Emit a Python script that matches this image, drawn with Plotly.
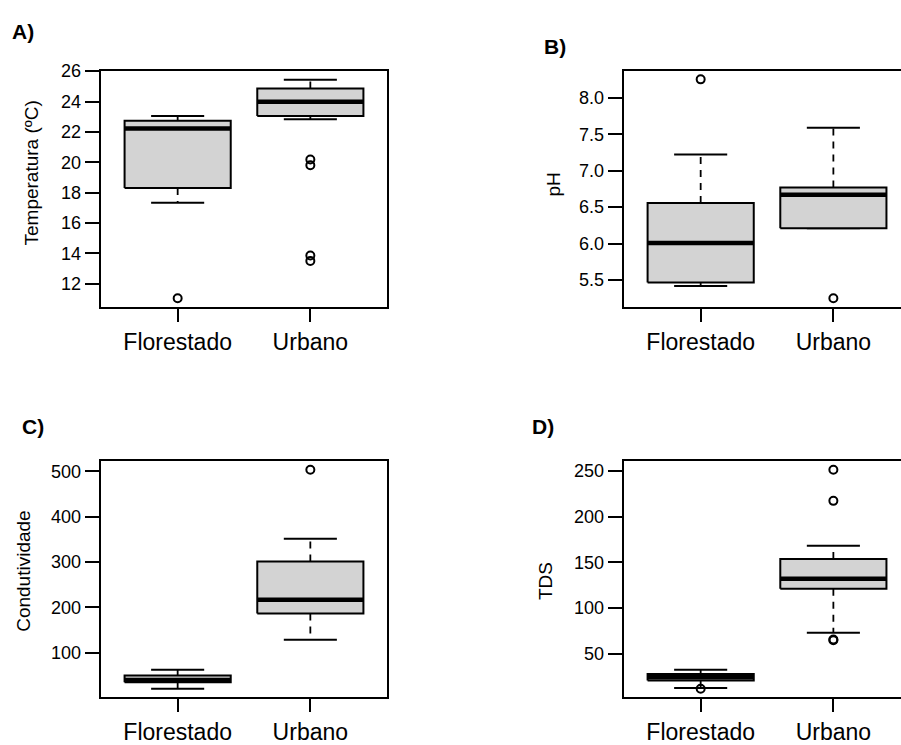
import plotly.graph_objects as go

W, H = 901, 745

categories = ["Florestado", "Urbano"]
cat_pos = [1, 2]

# Panel A - Temperatura
temp_lower = [17.34, 22.83]
temp_q1 = [18.31, 23.05]
temp_median = [22.23, 23.98]
temp_q3 = [22.73, 24.86]
temp_upper = [23.05, 25.44]
temp_outliers = [[11.05], [20.18, 19.80, 13.87, 13.51]]
temp_ticks = [12, 14, 16, 18, 20, 22, 24, 26]

# Panel B - pH
ph_lower = [5.415, 6.21]
ph_q1 = [5.464, 6.21]
ph_median = [6.008, 6.67]
ph_q3 = [6.557, 6.77]
ph_upper = [7.222, 7.59]
ph_outliers = [[8.256], [5.248]]
ph_ticks = [5.5, 6.0, 6.5, 7.0, 7.5, 8.0]

# Panel C - Condutividade
cond_lower = [21, 129]
cond_q1 = [35, 186.8]
cond_median = [40, 217.2]
cond_q3 = [50, 301.1]
cond_upper = [63, 351.7]
cond_outliers = [[], [503.6]]
cond_ticks = [100, 200, 300, 400, 500]

# Panel D - TDS
tds_lower = [12.2, 72.7]
tds_q1 = [20.5, 120.9]
tds_median = [24.1, 132]
tds_q3 = [27.7, 153.6]
tds_upper = [32.4, 168]
tds_outliers = [[11.5], [251.4, 217.3, 64.7, 65.5]]
tds_ticks = [50, 100, 150, 200, 250]

FONT = "Liberation Sans, Arial, sans-serif"
BOXW = 0.8
CAPW = 0.4

fig = go.Figure()


def add_panel(ax, lower, q1, med, q3, upper, outliers):
    xa = "x" if ax == 1 else f"x{ax}"
    ya = "y" if ax == 1 else f"y{ax}"
    for i, x in enumerate(cat_pos):
        # whiskers (dashed)
        for a, b in ((q3[i], upper[i]), (q1[i], lower[i])):
            if a != b:
                fig.add_trace(go.Scatter(x=[x, x], y=[a, b], mode="lines",
                                         line=dict(color="black", width=1.8, dash="7px,6px"),
                                         xaxis=xa, yaxis=ya, hoverinfo="skip", showlegend=False))
        # caps
        for v in (upper[i], lower[i]):
            fig.add_trace(go.Scatter(x=[x - CAPW / 2, x + CAPW / 2], y=[v, v], mode="lines",
                                     line=dict(color="black", width=2),
                                     xaxis=xa, yaxis=ya, hoverinfo="skip", showlegend=False))
        # box
        x0, x1 = x - BOXW / 2, x + BOXW / 2
        fig.add_trace(go.Scatter(x=[x0, x1, x1, x0, x0], y=[q1[i], q1[i], q3[i], q3[i], q1[i]],
                                 mode="lines", fill="toself", fillcolor="#d3d3d3",
                                 line=dict(color="black", width=2),
                                 xaxis=xa, yaxis=ya, hoverinfo="skip", showlegend=False))
        # median
        fig.add_trace(go.Scatter(x=[x0, x1], y=[med[i], med[i]], mode="lines",
                                 line=dict(color="black", width=4.5),
                                 xaxis=xa, yaxis=ya, hoverinfo="skip", showlegend=False))
        # outliers
        if outliers[i]:
            fig.add_trace(go.Scatter(x=[x] * len(outliers[i]), y=outliers[i], mode="markers",
                                     marker=dict(symbol="circle-open", size=8,
                                                 color="black", line=dict(width=2, color="black")),
                                     xaxis=xa, yaxis=ya, hoverinfo="skip", showlegend=False))


add_panel(1, temp_lower, temp_q1, temp_median, temp_q3, temp_upper, temp_outliers)
add_panel(2, ph_lower, ph_q1, ph_median, ph_q3, ph_upper, ph_outliers)
add_panel(3, cond_lower, cond_q1, cond_median, cond_q3, cond_upper, cond_outliers)
add_panel(4, tds_lower, tds_q1, tds_median, tds_q3, tds_upper, tds_outliers)


def px_x(p):
    return p / W


def px_y(p):
    return 1 - p / H


def xaxis_cfg(left, right, xmax):
    return dict(domain=[px_x(left), px_x(right)], range=[0.42, xmax],
                tickvals=cat_pos, ticktext=categories, ticks="outside", ticklen=13,
                tickwidth=2, tickcolor="black", showline=True, mirror=True,
                linecolor="black", linewidth=2, showgrid=False, zeroline=False,
                tickfont=dict(family=FONT, size=23, color="black"), fixedrange=True)


def yaxis_cfg(top, bottom, rng, ticks, mirror, fmt=None):
    d = dict(domain=[px_y(bottom), px_y(top)], range=rng, tickvals=ticks,
             ticks="outside", ticklen=14, tickwidth=2, tickcolor="black",
             showline=True, mirror=mirror, linecolor="black", linewidth=2,
             showgrid=False, zeroline=False,
             tickfont=dict(family=FONT, size=18, color="black"), fixedrange=True)
    if fmt:
        d["tickformat"] = fmt
    return d


def rng(lo, hi):
    pad = (hi - lo) * 0.04
    return [lo - pad, hi + pad]


def all_vals(*lists):
    vals = []
    for l in lists[:-1]:
        vals += list(l)
    for o in lists[-1]:
        vals += list(o)
    return min(vals), max(vals)


ra = rng(*all_vals(temp_lower, temp_upper, temp_outliers))
rb = rng(*all_vals(ph_lower, ph_upper, ph_outliers))
rc = rng(*all_vals(cond_lower, cond_upper, cond_outliers))
rd = rng(*all_vals(tds_lower, tds_upper, tds_outliers))

xmax_right = 0.42 + (901 - 623.7) / 132.7

fig.update_layout(
    width=W, height=H, margin=dict(l=0, r=0, t=0, b=0),
    paper_bgcolor="white", plot_bgcolor="white", showlegend=False,
    xaxis=dict(**xaxis_cfg(100.7, 387.3, 2.58), anchor="y"),
    yaxis=dict(**yaxis_cfg(63, 303.3, ra, temp_ticks, True), anchor="x"),
    xaxis2=dict(**xaxis_cfg(623.7, 901, xmax_right), anchor="y2"),
    yaxis2=dict(**yaxis_cfg(62.7, 303.3, rb, ph_ticks, False, ".1f"), anchor="x2"),
    xaxis3=dict(**xaxis_cfg(100.7, 387.3, 2.58), anchor="y3"),
    yaxis3=dict(**yaxis_cfg(460, 700.7, rc, cond_ticks, True), anchor="x3"),
    xaxis4=dict(**xaxis_cfg(623.7, 901, xmax_right), anchor="y4"),
    yaxis4=dict(**yaxis_cfg(460, 700.7, rd, tds_ticks, False), anchor="x4"),
)

ann = []
panel_labels = [("A)", 10, 22.5), ("B)", 541.7, 38), ("C)", 20, 425), ("D)", 530, 425)]
for txt, x, y in panel_labels:
    ann.append(dict(text=txt, x=px_x(x), y=px_y(y), xref="paper", yref="paper",
                    xanchor="left", yanchor="middle", showarrow=False,
                    font=dict(family=FONT, size=21, color="black", weight="bold")))

ytitles = [("Temperatura (ºC)", 31.7, 166.7), ("pH", 553.3, 178.3),
           ("Condutividade", 23.3, 572.5), ("TDS", 545.7, 582.5)]
for txt, x, y in ytitles:
    ann.append(dict(text=txt, x=px_x(x), y=px_y(y), xref="paper", yref="paper",
                    xanchor="center", yanchor="middle", showarrow=False, textangle=-90,
                    font=dict(family=FONT, size=19, color="black")))

fig.update_layout(annotations=ann)

fig.write_html("out.html")
